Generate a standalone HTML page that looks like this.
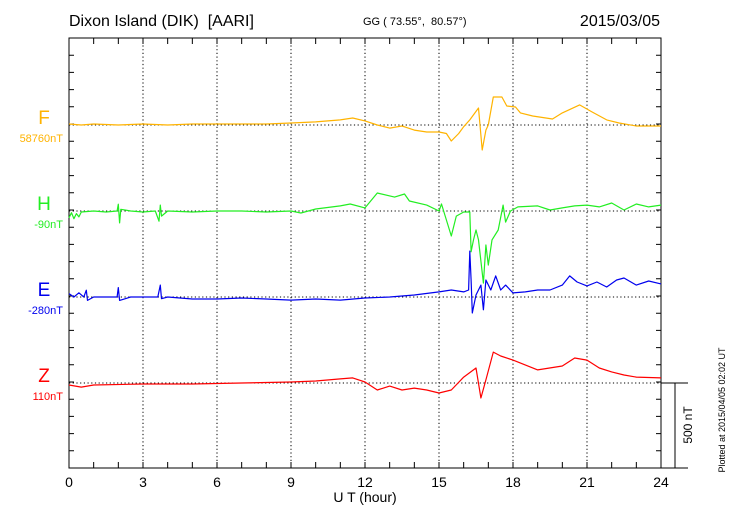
<!DOCTYPE html>
<html><head><meta charset="utf-8"><style>
body{margin:0;background:#fff;}
svg{display:block;font-family:"Liberation Sans",sans-serif;}
</style></head><body>
<svg id="chart" width="730" height="520" viewBox="0 0 730 520" xmlns="http://www.w3.org/2000/svg">
<text x="69" y="26" font-size="16">Dixon Island (DIK) &#160;[AARI]</text>
<text x="363" y="25" font-size="11">GG ( 73.55°, &#160;80.57°)</text>
<text x="660" y="26" font-size="16" text-anchor="end">2015/03/05</text>
<g id="grid"></g>
<g id="axes"></g>
<g id="series"></g>
<g id="labels"></g>
<text x="365" y="502" font-size="14" text-anchor="middle">U T (hour)</text>
<text transform="translate(692,425) rotate(-90)" font-size="12" text-anchor="middle">500 nT</text>
<text transform="translate(725,410) rotate(-90)" font-size="9" text-anchor="middle">Plotted at 2015/04/05 02:02 UT</text>
</svg>
<script>
const xTicks=[0,3,6,9,12,15,18,21,24];
const fH=[0,0.5,1,2,3,4,5,6,7,8,9,10,10.5,11,11.5,12,12.5,13,13.5,14,14.5,15,15.3,15.5,15.8,16,16.25,16.6,16.75,16.9,17.0,17.2,17.55,17.75,18.1,18.3,18.8,19.6,20.0,20.7,21.2,21.8,22.3,23,24];
const fV=[6,0,6,0,6,0,6,6,6,6,12,18,24,30,41,24,0,-18,-6,-30,-41,-41,-50,-94,-50,-10,30,100,-147,-30,0,165,165,112,106,71,53,35,71,118,77,30,12,-6,-6];
const hH=[0,0.1,0.2,0.3,0.4,0.5,1,1.5,1.95,2.0,2.05,2.1,2.5,3,3.5,3.65,3.7,3.75,4,5,6,7,8,9,9.4,10,11,11.4,12,12.5,13.2,13.6,13.8,14.5,15,15.1,15.5,15.7,16,16.25,16.3,16.4,16.5,16.6,16.8,16.9,17.0,17.15,17.4,17.6,17.7,17.9,18.2,19,19.5,20,20.5,21,21.5,22,22.5,23,23.5,24];
const hV=[-40,-10,-45,-15,-35,-6,0,-6,0,40,-70,10,0,-6,0,-60,35,-30,0,-6,0,0,-6,0,-12,12,30,41,18,106,82,100,59,35,0,41,-147,-30,-6,-6,-240,-170,-112,-170,-424,-200,-318,-170,-112,35,-65,0,24,30,6,18,30,35,24,47,6,41,24,35];
const eH=[0,0.2,0.4,0.6,0.7,0.75,1,1.5,1.95,2.0,2.05,2.5,3,3.6,3.7,3.75,4,5,6,7,8,9,10,11,12,13,14,15,15.5,16,16.2,16.25,16.3,16.35,16.5,16.7,16.8,16.9,17.1,17.3,17.5,17.7,18,18.5,19,19.5,20,20.3,20.6,21,21.4,21.8,22.2,22.5,23,23.5,24];
const eV=[20,0,25,0,40,-20,0,0,0,55,-20,0,0,0,70,-10,0,-12,-12,-6,-12,-18,-12,-18,-6,0,12,30,41,30,41,270,100,-94,12,70,-75,100,41,124,41,70,24,30,41,41,70,124,88,65,88,59,100,112,70,94,77];
const zH=[0,0.5,1,3,5,7,9,10,11,11.5,12,12.5,13,13.5,14,14.5,15,15.5,16,16.5,16.7,16.9,17.2,17.5,18,19,20,20.5,21,21.5,22,22.5,23,24];
const zV=[-12,-24,-12,-6,-6,0,6,12,24,30,6,-41,-18,-41,-30,-41,-59,-41,35,88,-88,18,182,159,135,77,100,147,135,88,65,47,35,30];
const L=69,R=661,T=38,B=468;
const NS="http://www.w3.org/2000/svg";
function x(h){return L+(R-L)*h/24;}
function y(base,v){return base-v*85/500;}
function mk(tag,attrs,parent){const e=document.createElementNS(NS,tag);for(const k in attrs)e.setAttribute(k,attrs[k]);document.getElementById(parent).appendChild(e);return e;}
for(const t of xTicks){ if(t>0&&t<24){const g=mk('line',{x1:x(t),x2:x(t),y1:T,y2:B,stroke:'#000','stroke-dasharray':'1.2,2.5','stroke-width':1},'grid');

}}
const bases=[125,211,297,383];
for(const b of bases){const g=mk('line',{x1:L,x2:R,y1:b,y2:b,stroke:'#000','stroke-dasharray':'1.2,2.5','stroke-width':1},'grid');

}
const fr=mk('rect',{x:L,y:T,width:R-L,height:B-T,fill:'none',stroke:'#000','stroke-width':1},'axes');


const ex=mk('path',{d:`M${R} ${B}H688M${R} 383H688M675 383V${B}`,stroke:'#000',fill:'none'},'axes');


let d='';
for(let h=1;h<24;h++){d+=`M${x(h)} ${T}v6M${x(h)} ${B}v-6`;}
for(let v=T+17.2;v<B-1;v+=17.2){d+=`M${L} ${v}h5M${R} ${v}h-5`;}
const tk=mk('path',{d:d,stroke:'#000',fill:'none'},'axes');


for(const t of xTicks){const e=mk('text',{x:x(t),y:487,'font-size':14,'text-anchor':'middle'},'axes');e.textContent=t;

}
const series=[[fH,fV,125,'#ffb300','F','58760nT','f'],[hH,hV,211,'#22ee22','H','-90nT','h'],[eH,eV,297,'#0000ee','E','-280nT','e'],[zH,zV,383,'#ff0000','Z','110nT','z']];
for(const [hs,vs,b,c,n,off,id] of series){
 let p='';for(let i=0;i<hs.length;i++)p+=(i?'L':'M')+x(hs[i]).toFixed(1)+' '+y(b,vs[i]).toFixed(1);
 const l=mk('path',{d:p,stroke:c,fill:'none','stroke-width':1.2,'stroke-linejoin':'round'},'series');
 
 
 const t=mk('text',{x:44,y:b-1,'font-size':19,fill:c,'text-anchor':'middle'},'labels');t.textContent=n;
 
 
 const o=mk('text',{x:63,y:b+17,'font-size':11,fill:c,'text-anchor':'end'},'labels');o.textContent=off;
 
 
}
</script>
</body></html>
